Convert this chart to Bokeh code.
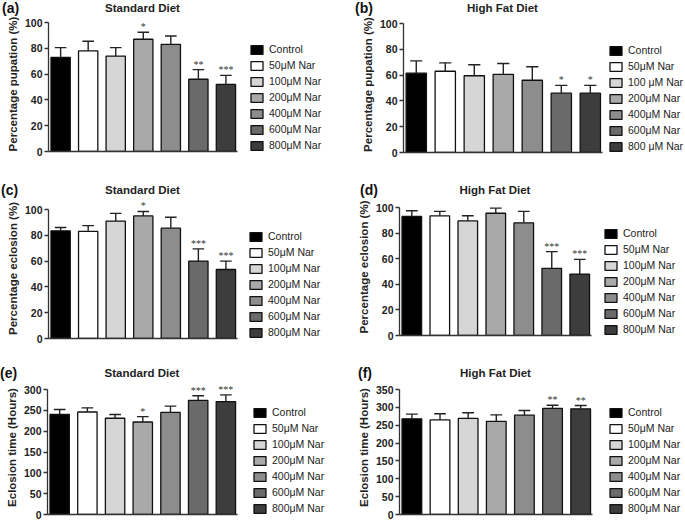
from bokeh.plotting import figure
from bokeh.models import (Legend, LegendItem, LabelSet, Range1d, FixedTicker,
                          ColumnDataSource, Div)
from bokeh.layouts import column, row
from bokeh.embed import file_html
from bokeh.resources import INLINE

FONT = "Liberation Sans"

groups = ["Control", "50μM Nar", "100μM Nar", "200μM Nar", "400μM Nar", "600μM Nar", "800μM Nar"]
groups_b = ["Control", "50μM Nar", "100 μM Nar", "200μM Nar", "400μM Nar", "600μM Nar", "800 μM Nar"]
colors = ["#000000", "#ffffff", "#d6d6d6", "#a9a9a9", "#8d8d8d", "#6a6a6a", "#3d3d3d"]

# (a) Percentage pupation, standard diet
pup_sd = [73, 78, 74, 87, 83, 56, 52]
pup_sd_err = [7.5, 7.5, 6.5, 5.5, 6.5, 7.5, 7]
pup_sd_sig = ["", "", "", "*", "", "**", "***"]

# (b) Percentage pupation, high fat diet
pup_hfd = [61.5, 63, 59.5, 60.5, 56, 46, 46]
pup_hfd_err = [9.5, 6.5, 8.5, 8.5, 10.5, 6, 6]
pup_hfd_sig = ["", "", "", "", "", "*", "*"]

# (c) Percentage eclosion, standard diet
ecl_sd = [83.5, 83, 91, 95, 85.5, 60, 53.5]
ecl_sd_err = [2.5, 4.5, 6, 3.5, 8.5, 9.5, 6.5]
ecl_sd_sig = ["", "", "", "*", "", "***", "***"]

# (d) Percentage eclosion, high fat diet
ecl_hfd = [93, 93.5, 89.5, 95.5, 88, 52.5, 48]
ecl_hfd_err = [4.5, 3.5, 4, 4, 9, 13, 11.5]
ecl_hfd_sig = ["", "", "", "", "", "***", "***"]

# (e) Eclosion time (hours), standard diet
time_sd = [240, 246, 231, 222, 245, 274, 271]
time_sd_err = [12, 10, 9, 13, 15, 11, 16]
time_sd_sig = ["", "", "", "*", "", "***", "***"]

# (f) Eclosion time (hours), high fat diet
time_hfd = [268, 265, 269, 261, 278, 297, 296]
time_hfd_err = [13, 17, 16, 18, 13, 9, 9]
time_hfd_sig = ["", "", "", "", "", "**", "**"]

pct_ticks = [0, 20, 40, 60, 80, 100]
time_ticks_sd = [0, 50, 100, 150, 200, 250, 300]
time_ticks_hfd = [0, 50, 100, 150, 200, 250, 300, 350]

X0, X1 = 0.56, 7.42


def header(tag, title, width, height, top, tag_x, title_cx):
    html = (
        f'<div style="position:relative;width:{width}px;height:{height}px;'
        f"font-family:'Liberation Sans',Arial,sans-serif;\">"
        f'<span style="position:absolute;left:{tag_x}px;top:{top}px;font-size:14px;'
        f'font-weight:bold;line-height:15px;color:#111111;white-space:nowrap;">{tag}</span>'
        f'<span style="position:absolute;left:{title_cx - 100}px;width:200px;text-align:center;'
        f'top:{top + 1}px;font-size:11.5px;font-weight:bold;line-height:13px;color:#222222;'
        f'white-space:nowrap;">{title}</span></div>'
    )
    return Div(text=html, width=width, height=height, margin=0)


def panel(tag, title, ylabel, vals, errs, sig, ymax, ticks, labels, width, height,
          b_left, b_bottom, ext_px, bars_px, hdr_h, hdr_top, tag_x, leg_gap):
    b_right = 0
    frame_w = width - b_left - b_right
    frame_h = height - b_bottom
    x_end = X0 + frame_w * (X1 - X0) / bars_px
    y_end = ymax * frame_h / (frame_h - ext_px)
    p = figure(width=width, height=height, output_backend="svg", toolbar_location=None,
               title=None, x_range=Range1d(X0, x_end), y_range=Range1d(0, y_end),
               min_border_left=b_left, min_border_top=0, min_border_bottom=b_bottom,
               min_border_right=b_right)
    p.outline_line_color = None
    p.xgrid.grid_line_color = None
    p.ygrid.grid_line_color = None
    p.border_fill_color = None
    p.background_fill_color = None

    xs = list(range(1, len(vals) + 1))
    upper = [v + e for v, e in zip(vals, errs)]
    src = ColumnDataSource(dict(x=xs, top=vals, color=colors, label=labels,
                                upper=upper, sig=sig,
                                cl=[x - 0.21 for x in xs], cr=[x + 0.21 for x in xs]))
    r = p.vbar(x="x", top="top", width=0.7, bottom=0, source=src, fill_color="color",
               line_color="#111111", line_width=1.3)
    p.segment(x0="x", y0="top", x1="x", y1="upper", source=src, line_color="#222222", line_width=1.4)
    p.segment(x0="cl", y0="upper", x1="cr", y1="upper", source=src, line_color="#222222", line_width=1.4)
    p.add_layout(LabelSet(x="x", y="upper", text="sig", source=src, text_align="center",
                          text_baseline="bottom", y_offset=0, text_font=FONT,
                          text_font_size="10px", text_color="#333333"))

    # axes
    p.yaxis.ticker = FixedTicker(ticks=ticks)
    p.yaxis.bounds = (0, ymax)
    p.yaxis.axis_label = ylabel
    p.yaxis.axis_label_text_font = FONT
    p.yaxis.axis_label_text_font_size = "11.5px"
    p.yaxis.axis_label_text_font_style = "bold"
    p.yaxis.axis_label_text_color = "#222222"
    p.yaxis.axis_label_standoff = 3
    p.yaxis.major_label_text_font = FONT
    p.yaxis.major_label_text_font_size = "10.5px"
    p.yaxis.major_label_text_font_style = "bold"
    p.yaxis.major_label_text_color = "#222222"
    p.yaxis.major_label_standoff = 2
    p.yaxis.major_tick_in = 0
    p.yaxis.major_tick_out = 4
    p.yaxis.minor_tick_line_color = None
    p.yaxis.axis_line_width = 1.3
    p.yaxis.major_tick_line_width = 1.3
    p.yaxis.axis_line_color = "#333333"
    p.yaxis.major_tick_line_color = "#333333"

    p.xaxis.ticker = FixedTicker(ticks=[])
    p.xaxis.bounds = (X0, X1)
    p.xaxis.major_label_text_font_size = "0px"
    p.xaxis.major_label_standoff = 0
    p.xaxis.major_tick_line_color = None
    p.xaxis.minor_tick_line_color = None
    p.xaxis.axis_line_width = 1.3
    p.xaxis.axis_line_color = "#333333"

    items = [LegendItem(label=lab, renderers=[r], index=i) for i, lab in enumerate(labels)]
    leg = Legend(items=items, location=(bars_px + leg_gap, 0), margin=0, padding=0, spacing=4,
                 glyph_width=15, glyph_height=11, label_height=11, label_standoff=5,
                 label_text_font=FONT, label_text_font_size="10.5px", label_text_color="#222222",
                 border_line_color=None, background_fill_alpha=0)
    p.add_layout(leg)

    hdr = header(tag, title, width, hdr_h, hdr_top, tag_x, b_left + bars_px / 2)
    return column(hdr, p)


LW, RW = 340, 344
#            tag   title            ylabel                     values   errors       stars
pa = panel("(a)", "Standard Diet", "Percentage pupation (%)", pup_sd, pup_sd_err, pup_sd_sig,
           100, pct_ticks, groups, LW, 154, 48, 19, 6, 189, 16, 1, 2, 12)
pb = panel("(b)", "High Fat Diet", "Percentage pupation (%)", pup_hfd, pup_hfd_err, pup_hfd_sig,
           100, pct_ticks, groups_b, RW, 154, 63, 18, 7, 199, 16, 1, 15, 6)
pc = panel("(c)", "Standard Diet", "Percentage eclosion (%)", ecl_sd, ecl_sd_err, ecl_sd_sig,
           100, pct_ticks, groups, LW, 147, 48, 7, 11, 189, 28, 13, 1, 11)
pd = panel("(d)", "High Fat Diet", "Percentage eclosion (%)", ecl_hfd, ecl_hfd_err, ecl_hfd_sig,
           100, pct_ticks, groups, RW, 147, 59, 10, 9, 192, 28, 13, 20, 12)
pe = panel("(e)", "Standard Diet", "Eclosion time (Hours)", time_sd, time_sd_err, time_sd_sig,
           300, time_ticks_sd, groups, LW, 140, 47, 6, 9, 190, 35, 21, 0, 15)
pf = panel("(f)", "High Fat Diet", "Eclosion time (Hours)", time_hfd, time_hfd_err, time_hfd_sig,
           350, time_ticks_hfd, groups, RW, 140, 59, 6, 9, 193, 35, 21, 18, 16)

layout = column(row(pa, pb), row(pc, pd), row(pe, pf))
open("out.html", "w").write(file_html(layout, INLINE))
